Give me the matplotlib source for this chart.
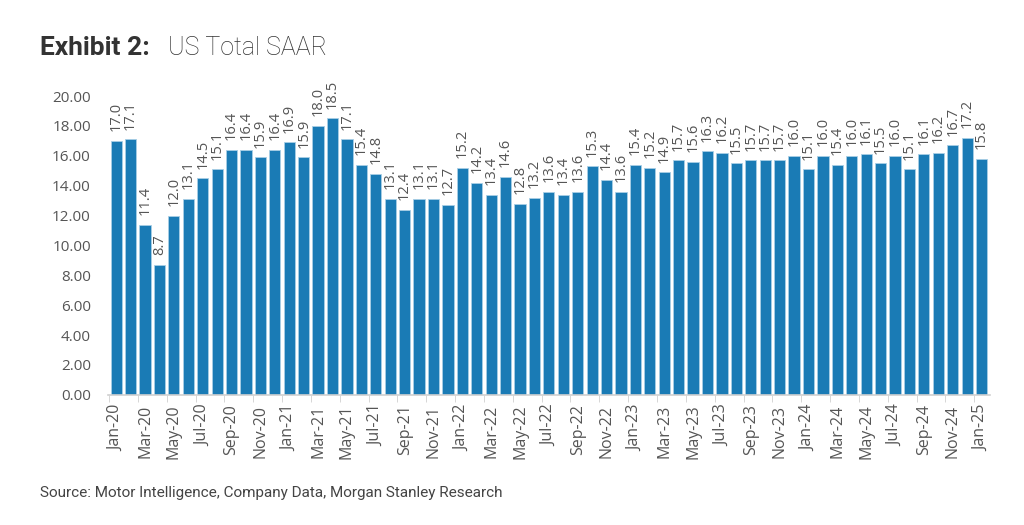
import matplotlib
matplotlib.use("Agg")
import matplotlib.pyplot as plt
import numpy as np

months = ["Jan", "Feb", "Mar", "Apr", "May", "Jun", "Jul", "Aug", "Sep", "Oct", "Nov", "Dec"]
labels = [f"{m}-{y}" for y in ["20", "21", "22", "23", "24"] for m in months] + ["Jan-25"]

saar = [17.0, 17.1, 11.4, 8.7, 12.0, 13.1, 14.5, 15.1, 16.4, 16.4, 15.9, 16.4,
        16.9, 15.9, 18.0, 18.5, 17.1, 15.4, 14.8, 13.1, 12.4, 13.1, 13.1, 12.7,
        15.2, 14.2, 13.4, 14.6, 12.8, 13.2, 13.6, 13.4, 13.6, 15.3, 14.4, 13.6,
        15.4, 15.2, 14.9, 15.7, 15.6, 16.3, 16.2, 15.5, 15.7, 15.7, 15.7, 16.0,
        15.1, 16.0, 15.4, 16.0, 16.1, 15.5, 16.0, 15.1, 16.1, 16.2, 16.7, 17.2,
        15.8]

bar_color = "#1a7bb5"
text_color = "#555555"

fig = plt.figure(figsize=(10.24, 5.25), dpi=100)
ax = fig.add_axes([0.105, 0.248, 0.862, 0.569])

x = np.arange(len(saar))
ax.bar(x, saar, width=0.78, color=bar_color, edgecolor="#a8cfe6", linewidth=0.6)

for xi, v in zip(x, saar):
    ax.annotate(f"{v:.1f}", (xi, v), xytext=(0, 7), textcoords="offset points",
                rotation=90, ha="center", va="bottom",
                fontsize=10.5, color=text_color, family="Open Sans")

ax.set_ylim(0, 20)
ax.set_xlim(-0.6, len(saar) - 0.4)
yt = np.arange(0, 20.01, 2)
ax.set_yticks(yt)
ax.set_yticklabels([f"{t:.2f}" for t in yt], fontsize=11, color=text_color, family="Open Sans")
ax.set_xticks(x[::2])
ax.set_xticklabels(labels[::2], rotation=90, fontsize=11.5, color=text_color, family="Open Sans")
ax.tick_params(axis="x", which="major", length=0, pad=7)
ax.set_xticks(np.arange(-0.5, len(saar), 2), minor=True)
ax.tick_params(axis="x", which="minor", length=5, color="#d0d0d0")
ax.tick_params(axis="y", length=0, pad=12)

for s in ["top", "right", "left"]:
    ax.spines[s].set_visible(False)
ax.spines["bottom"].set_color("#d0d0d0")
ax.spines["bottom"].set_linewidth(1.2)

fig.text(0.039, 0.908, "Exhibit 2:", fontsize=19, fontweight="bold", color="#333333",
         family="Roboto", va="center")
fig.text(0.164, 0.908, "US Total SAAR", fontsize=18, fontweight="light", color="#333333",
         family="Roboto", va="center")
fig.text(0.039, 0.06, "Source: Motor Intelligence, Company Data, Morgan Stanley Research",
         fontsize=11, color="#444444", family="Roboto", va="center")

fig.savefig("out.png", dpi=100)
